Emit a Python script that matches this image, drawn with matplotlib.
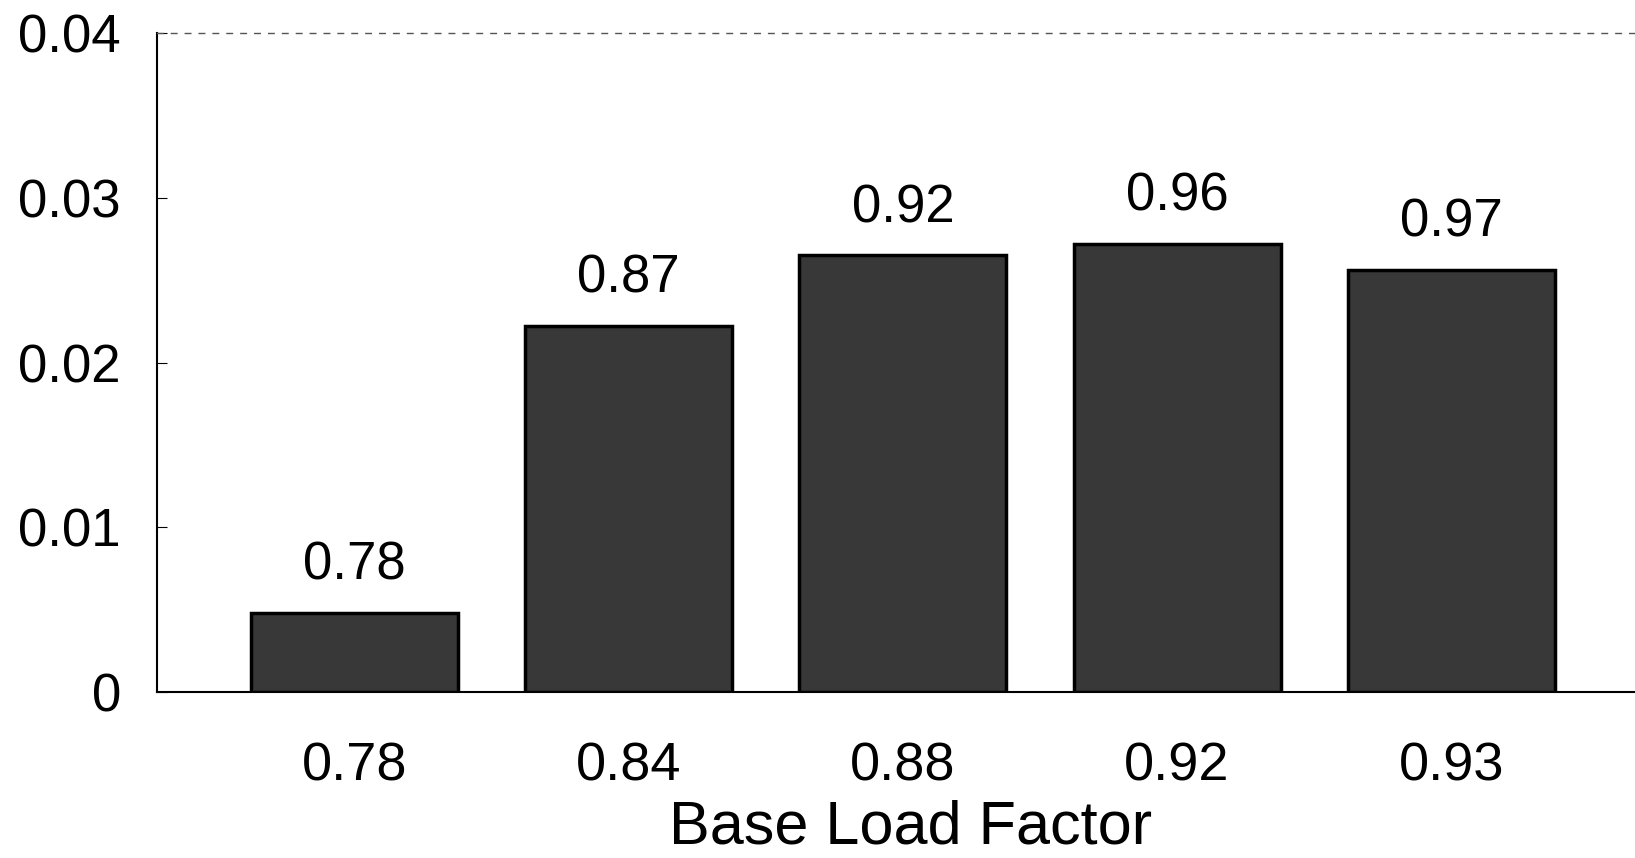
import numpy as np
import matplotlib.pyplot as plt

# Data
base_load = ["0.78", "0.84", "0.88", "0.92", "0.93"]
values = [0.0048, 0.0222, 0.0265, 0.0272, 0.0256]
bar_labels = ["0.78", "0.87", "0.92", "0.96", "0.97"]
y_ticks = [0, 0.01, 0.02, 0.03, 0.04]
y_tick_labels = ["0", "0.01", "0.02", "0.03", "0.04"]

plt.rcParams['font.family'] = ['Liberation Sans', 'DejaVu Sans']

fig = plt.figure(figsize=(16.35, 8.58), dpi=100)
ax = fig.add_axes([0.096, 0.1935, 0.904, 0.768])

x = np.arange(len(values))
ax.bar(x, values, width=0.755, color='#383838', edgecolor='black', linewidth=2.5)

for xi, v, lab in zip(x, values, bar_labels):
    ax.annotate(lab, (xi, v), xytext=(0, 24), textcoords='offset points',
                ha='center', va='baseline', fontsize=38)

ax.set_xlim(-0.72, 4.67)
ax.set_ylim(0, 0.04)
ax.set_xticks(x)
ax.set_xticklabels(base_load)
ax.set_yticks(y_ticks)
ax.set_yticklabels(y_tick_labels)
ax.tick_params(axis='x', length=0, pad=36, labelsize=39)
ax.tick_params(axis='y', direction='in', length=7, pad=26, labelsize=38)
ax.set_xlabel("Base Load Factor", fontsize=44)
ax.xaxis.set_label_coords(0.51, -0.163)

ax.spines['right'].set_visible(False)
ax.spines['top'].set_linestyle((0, (4, 6)))
ax.spines['top'].set_color('#555555')
ax.spines['top'].set_linewidth(1)
ax.spines['left'].set_linewidth(1.5)
ax.spines['bottom'].set_linewidth(1.5)

fig.savefig("out.png", dpi=100)
